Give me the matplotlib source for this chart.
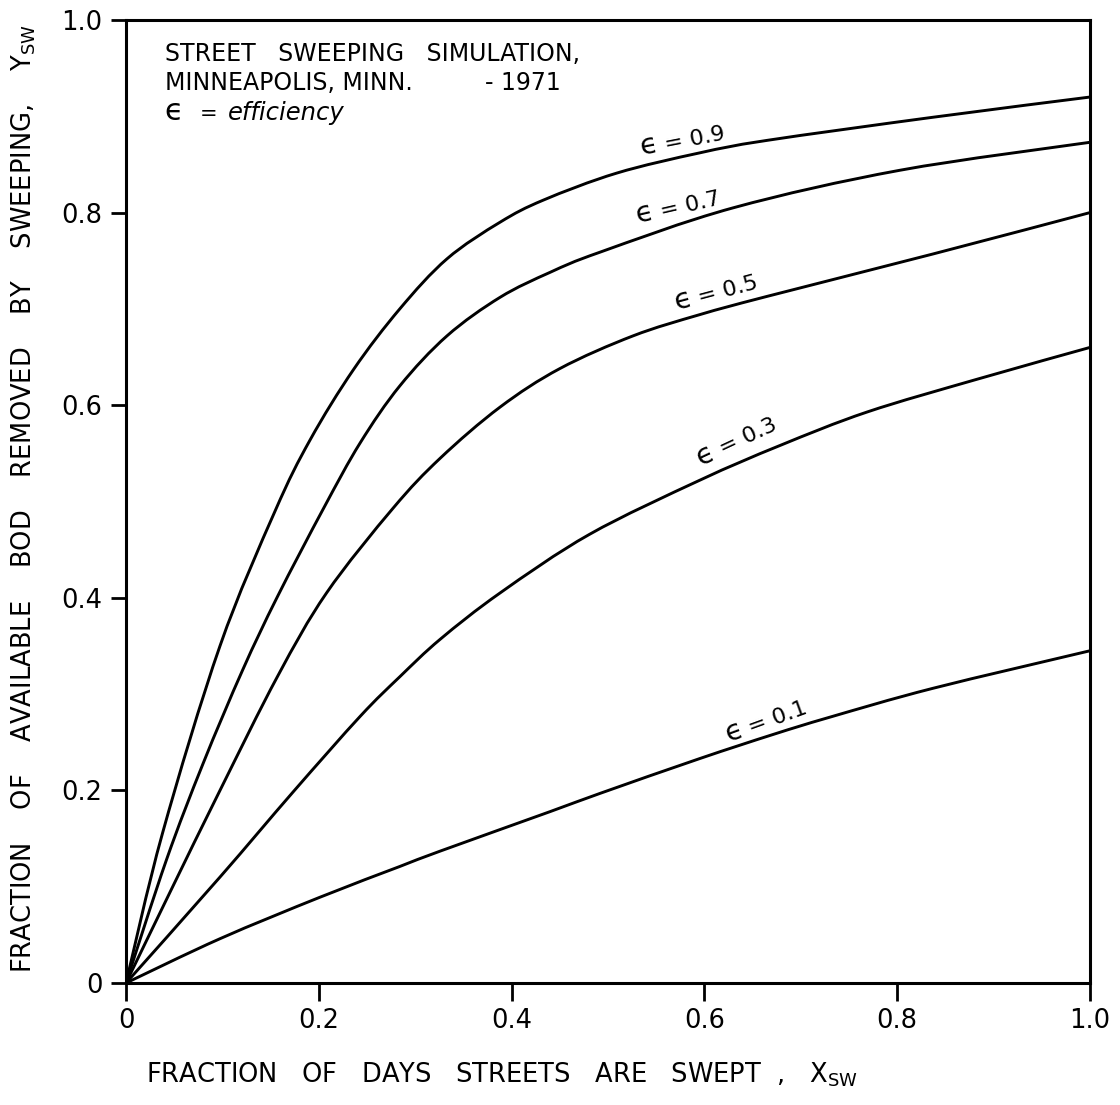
import numpy as np
import matplotlib
matplotlib.use("Agg")
import matplotlib.pyplot as plt
from matplotlib.path import Path
from matplotlib.patches import PathPatch

plt.rcParams['font.family'] = ['DejaVu Sans']
plt.rcParams['mathtext.fontset'] = 'dejavusans'

# fraction of days swept vs fraction of BOD removed, one curve per efficiency
x_e09 = [0, 0.038, 0.0975, 0.1546, 0.191, 0.236, 0.284, 0.333, 0.388, 0.433, 0.509, 0.595, 0.665, 0.837, 1.0]
y_e09 = [0, 0.156, 0.350, 0.490, 0.564, 0.637, 0.700, 0.752, 0.790, 0.813, 0.841, 0.862, 0.875, 0.899, 0.92]

x_e07 = [0, 0.042, 0.080, 0.121, 0.157, 0.205, 0.243, 0.284, 0.333, 0.388, 0.44, 0.492, 0.63, 0.803, 1.0]
y_e07 = [0, 0.128, 0.228, 0.325, 0.401, 0.493, 0.561, 0.620, 0.672, 0.712, 0.738, 0.759, 0.805, 0.844, 0.873]

x_e05 = [0, 0.046, 0.0975, 0.157, 0.208, 0.277, 0.326, 0.388, 0.45, 0.526, 0.595, 0.665, 0.837, 1.0]
y_e05 = [0, 0.095, 0.200, 0.318, 0.405, 0.493, 0.545, 0.598, 0.638, 0.672, 0.694, 0.713, 0.757, 0.80]

x_e03 = [0, 0.0975, 0.173, 0.243, 0.284, 0.326, 0.388, 0.481, 0.595, 0.678, 0.769, 0.883, 1.0]
y_e03 = [0, 0.110, 0.198, 0.277, 0.318, 0.357, 0.405, 0.466, 0.522, 0.558, 0.593, 0.627, 0.66]

x_e01 = [0, 0.0975, 0.201, 0.284, 0.326, 0.44, 0.492, 0.595, 0.671, 0.73, 0.837, 1.0]
y_e01 = [0, 0.046, 0.089, 0.121, 0.137, 0.178, 0.197, 0.233, 0.258, 0.276, 0.306, 0.345]

curves = [(x_e09, y_e09), (x_e07, y_e07), (x_e05, y_e05), (x_e03, y_e03), (x_e01, y_e01)]

efficiency = ["0.9", "0.7", "0.5", "0.3", "0.1"]
label_x = [0.578, 0.574, 0.613, 0.634, 0.665]
label_y = [0.876, 0.807, 0.718, 0.564, 0.273]
label_rot = [11, 13, 15, 25, 20]

ticks = [0, 0.2, 0.4, 0.6, 0.8, 1.0]
tick_text = ["0", "0.2", "0.4", "0.6", "0.8", "1.0"]


def smooth_path(xs, ys):
    # pen-style curve through the points (Catmull-Rom handles as Bezier controls)
    p = np.column_stack([xs, ys]).astype(float)
    n = len(p)
    verts = [p[0]]
    codes = [Path.MOVETO]
    for i in range(n - 1):
        p0 = p[i - 1] if i > 0 else p[i]
        p1, p2 = p[i], p[i + 1]
        p3 = p[i + 2] if i + 2 < n else p[i + 1]
        verts += [p1 + (p2 - p0) / 6, p2 - (p3 - p1) / 6, p2]
        codes += [Path.CURVE4] * 3
    return Path(verts, codes)


def along(ax, x, y, rot, s, txt, size, b=5.5):
    # text on a rotated baseline, s points along it from the label centre
    t = np.radians(rot)
    dx = s * np.cos(t) + b * np.sin(t)
    dy = s * np.sin(t) - b * np.cos(t)
    ax.annotate(txt, xy=(x, y), xytext=(dx, dy), textcoords='offset points',
                rotation=rot, rotation_mode='anchor', ha='left', va='baseline',
                fontsize=size)


fig = plt.figure(figsize=(11.2, 11.05), dpi=100)
ax = fig.add_axes([0.1125, 0.1104, 0.8607, 0.8715])

for xs, ys in curves:
    ax.add_patch(PathPatch(smooth_path(xs, ys), fill=False, edgecolor='black',
                           lw=2.1, capstyle='round', joinstyle='round'))

for e, lx, ly, rot in zip(efficiency, label_x, label_y, label_rot):
    along(ax, lx, ly, rot, -32, "\u03f5", 21)
    along(ax, lx, ly, rot, -14, "= " + e, 16)

# note block in the upper left corner
tr = ax.transAxes
ax.text(0.040, 0.977, "STREET   SWEEPING   SIMULATION,", fontsize=17, va='top', ha='left', transform=tr)
ax.text(0.040, 0.947, "MINNEAPOLIS, MINN.", fontsize=17, va='top', ha='left', transform=tr)
ax.text(0.372, 0.947, "- 1971", fontsize=17, va='top', ha='left', transform=tr)
ax.text(0.040, 0.896, "\u03f5", fontsize=22, va='baseline', ha='left', transform=tr)
ax.text(0.076, 0.896, "=", fontsize=15, va='baseline', ha='left', transform=tr)
ax.text(0.106, 0.896, "efficiency", fontsize=17.5, va='baseline', ha='left', style='italic',
        transform=tr)

ax.set_xlim(0, 1.0)
ax.set_ylim(0, 1.0)
ax.set_xticks(ticks)
ax.set_xticklabels(tick_text, fontsize=18.5)
ax.set_yticks(ticks)
ax.set_yticklabels(tick_text, fontsize=18.5)
ax.tick_params(axis='x', direction='out', length=13, width=2, pad=5)
ax.tick_params(axis='y', direction='out', length=11, width=2, pad=6)

for s in ax.spines.values():
    s.set_linewidth(2.2)

ax.set_xlabel("FRACTION   OF   DAYS   STREETS   ARE   SWEPT  ,   X$_{\\rm SW}$", fontsize=18.5)
ax.xaxis.set_label_coords(0.39, -0.080)
ax.set_ylabel("FRACTION    OF    AVAILABLE    BOD    REMOVED    BY    SWEEPING,    Y$_{\\rm SW}$",
              fontsize=18.5)
ax.yaxis.set_label_coords(-0.091, 0.503)

fig.savefig("out.png", dpi=100)
